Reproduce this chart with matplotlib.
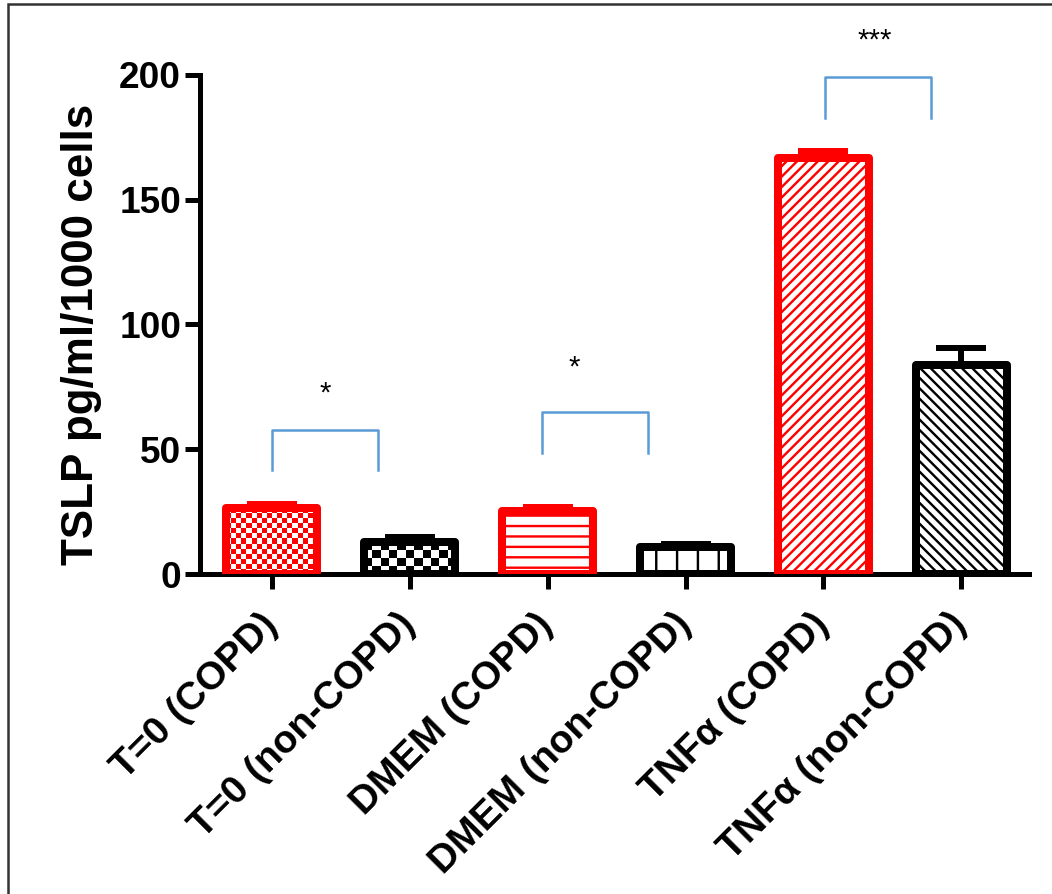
import numpy as np
import matplotlib
matplotlib.use('Agg')
import matplotlib.pyplot as plt
from matplotlib.colors import ListedColormap
from matplotlib.patches import Rectangle

# data
labels = ['T=0 (COPD)', 'T=0 (non-COPD)', 'DMEM (COPD)', 'DMEM (non-COPD)',
          'TNF\u03b1 (COPD)', 'TNF\u03b1 (non-COPD)']
values = [26.3, 12.8, 25.2, 10.8, 166.7, 83.8]
errors = [1.8, 2.2, 1.6, 1.4, 3.0, 6.6]

# significance brackets (left x, right x, top y, bottom y) and stars
br_left = [0.0, 1.96, 4.01]
br_right = [0.77, 2.73, 4.78]
br_top = [57.7, 64.9, 199.2]
br_bottom = [41.7, 48.5, 182.8]
star_x = [0.385, 2.19, 4.37]
star_y = [72.5, 82.6, 214.0]
star_txt = ['*', '*', '***']

DPI = 125
def pt(px):
    return px * 72.0 / DPI

plt.rcParams['font.family'] = ['Liberation Sans', 'DejaVu Sans']
plt.rcParams['hatch.linewidth'] = pt(2.4)

colors = ['#ff0000', 'black', '#ff0000', 'black', '#ff0000', 'black']
hatches = [None, None, '--', '|', '////', '\\\\\\\\']
checker_px = [5, 8, None, None, None, None]

fig = plt.figure(figsize=(1052 / DPI, 894 / DPI), dpi=DPI)
ax = fig.add_axes([200 / 1052, 1 - 574 / 894, 829 / 1052, 499 / 894])
xlim = (-0.52, 5.49)
ylim = (0, 200)
ax.set_xlim(*xlim)
ax.set_ylim(*ylim)

x = np.arange(len(values))
width = 0.66
for i in range(len(values)):
    bars = ax.bar(x[i], values[i], width=width, facecolor='white' if checker_px[i] is None else 'none',
                  edgecolor=colors[i], linewidth=pt(8), hatch=hatches[i], zorder=3,
                  joinstyle='round')
    patch = bars[0]
    if checker_px[i] is not None:
        x0 = patch.get_x()
        x1 = x0 + patch.get_width()
        h = patch.get_height()
        p0 = ax.transData.transform((x0, 0))
        p1 = ax.transData.transform((x1, h))
        nx = max(1, int(round(abs(p1[0] - p0[0]) / checker_px[i])))
        ny = max(1, int(round(abs(p1[1] - p0[1]) / checker_px[i])))
        pattern = (np.add.outer(np.arange(ny), np.arange(nx)) % 2).astype(float)
        img = ax.imshow(pattern, cmap=ListedColormap(['white', colors[i]]), extent=(x0, x1, 0, h),
                        interpolation='nearest', aspect='auto', origin='lower', zorder=2)
        img.set_clip_path(patch)
    ax.errorbar(x[i], values[i], yerr=[[0], [errors[i]]], fmt='none', ecolor=colors[i],
                elinewidth=pt(6), capsize=pt(25), capthick=pt(6), zorder=2.5)

ax.set_xlim(*xlim)
ax.set_ylim(*ylim)

for a, b, t, lo in zip(br_left, br_right, br_top, br_bottom):
    ax.plot([a, a, b, b], [lo, t, t, lo], color='#5b9bd5', lw=pt(2.5), clip_on=False, zorder=4)
for sx, sy, s in zip(star_x, star_y, star_txt):
    ax.text(sx, sy, s, ha='center', va='center', fontsize=17, clip_on=False)

for side in ['top', 'right']:
    ax.spines[side].set_visible(False)
for side in ['left', 'bottom']:
    ax.spines[side].set_linewidth(pt(5))

ax.set_yticks([0, 50, 100, 150, 200])
ax.set_xticks(x)
ax.set_xticklabels(labels, rotation=45, ha='right', va='center', rotation_mode='anchor',
                   fontsize=pt(39), fontweight='bold')
ax.tick_params(axis='both', length=pt(15), width=pt(5), direction='out')
ax.tick_params(axis='y', labelsize=pt(37), pad=pt(4))
ax.tick_params(axis='x', pad=pt(30))
for t in ax.get_yticklabels():
    t.set_fontweight('bold')

ax.set_ylabel('TSLP pg/ml/1000 cells', fontsize=pt(44), fontweight='bold')
ax.yaxis.set_label_coords(-0.118, 0.48)

fig.patches.append(Rectangle((8 / 1052, -0.05), 1.2, 1 - 4 / 894 + 0.05, transform=fig.transFigure,
                             fill=False, edgecolor='#333333', linewidth=pt(2.5)))

plt.savefig('out.png', dpi=DPI)
